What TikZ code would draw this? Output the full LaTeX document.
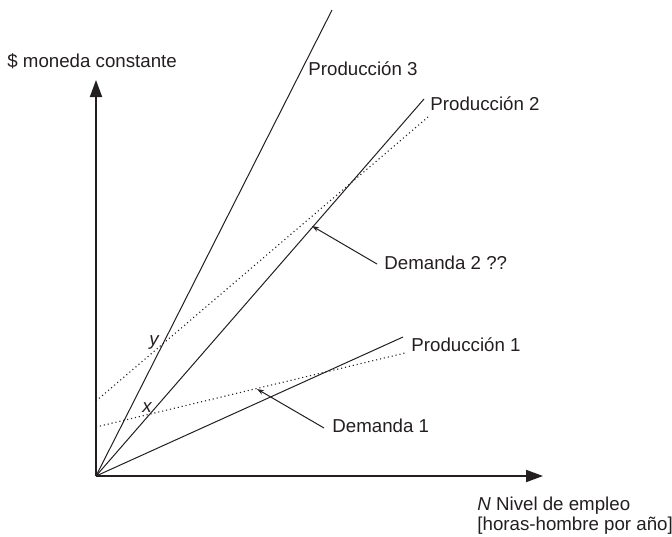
\documentclass[tikz,border=0pt]{standalone}
\usepackage{fontspec}
\setmainfont{Liberation Sans}
\usetikzlibrary{arrows.meta}
\definecolor{ink}{RGB}{35,31,32}
\begin{document}
\begin{tikzpicture}[x=0.5pt,y=-0.5pt,
  lbl/.style={anchor=base west,inner sep=0pt,text=ink,font=\fontsize{9.35}{11}\selectfont},
  axisline/.style={draw=ink,line width=0.9pt,-{Triangle[length=8.5pt,width=6pt]}},
  prodline/.style={draw=ink,line width=0.5pt},
  demline/.style={draw=ink,line width=0.55pt,dash pattern=on 0.55pt off 1.45pt},
  pointer/.style={draw=ink,line width=0.5pt,-{Stealth[length=3.5pt,width=2.4pt]}}]
\useasboundingbox (0,0) rectangle (672,536);
% coordinates
\coordinate (O) at (96,476);
\coordinate (Ytop) at (96,80);
\coordinate (Xend) at (543,476);
\coordinate (P3) at (332,10);
\coordinate (P2) at (424,99);
\coordinate (P1) at (403,337);
\coordinate (D2s) at (96,401);
\coordinate (D2e) at (428,117);
\coordinate (D1s) at (96,427);
\coordinate (D1e) at (405,353);
\coordinate (D2tail) at (377,264);
\coordinate (D2tip) at (312,226);
\coordinate (D1tail) at (324,428);
\coordinate (D1tip) at (257,389);
% axes
\draw[axisline] (O) -- (Ytop);
\draw[axisline] (O) -- (Xend);
% production lines
\draw[prodline] (O) -- (P3);
\draw[prodline] (O) -- (P2);
\draw[prodline] (O) -- (P1);
% demand lines
\draw[demline] (D2s) -- (D2e);
\draw[demline] (D1s) -- (D1e);
% labels
\node[lbl] (ylab) at (7,67) {\$ moneda constante};
\node[lbl] (p3lab) at (308,75) {Producción 3};
\node[lbl] (p2lab) at (430,110) {Producción 2};
\node[lbl] (d2lab) at (384,269) {Demanda 2 ??};
\node[lbl] (p1lab) at (411,351) {Producción 1};
\node[lbl] (d1lab) at (332,432) {Demanda 1};
\node[lbl] (ypt) at (149,345) {\itshape y};
\node[lbl] (xpt) at (142,412) {\itshape x};
\node[lbl] (xlab1) at (477,510) {\itshape N\upshape\ Nivel de empleo};
\node[lbl] (xlab2) at (477,530) {[horas-hombre por año]};
% pointers
\draw[pointer] (D2tail) -- (D2tip);
\draw[pointer] (D1tail) -- (D1tip);
\end{tikzpicture}
\end{document}
